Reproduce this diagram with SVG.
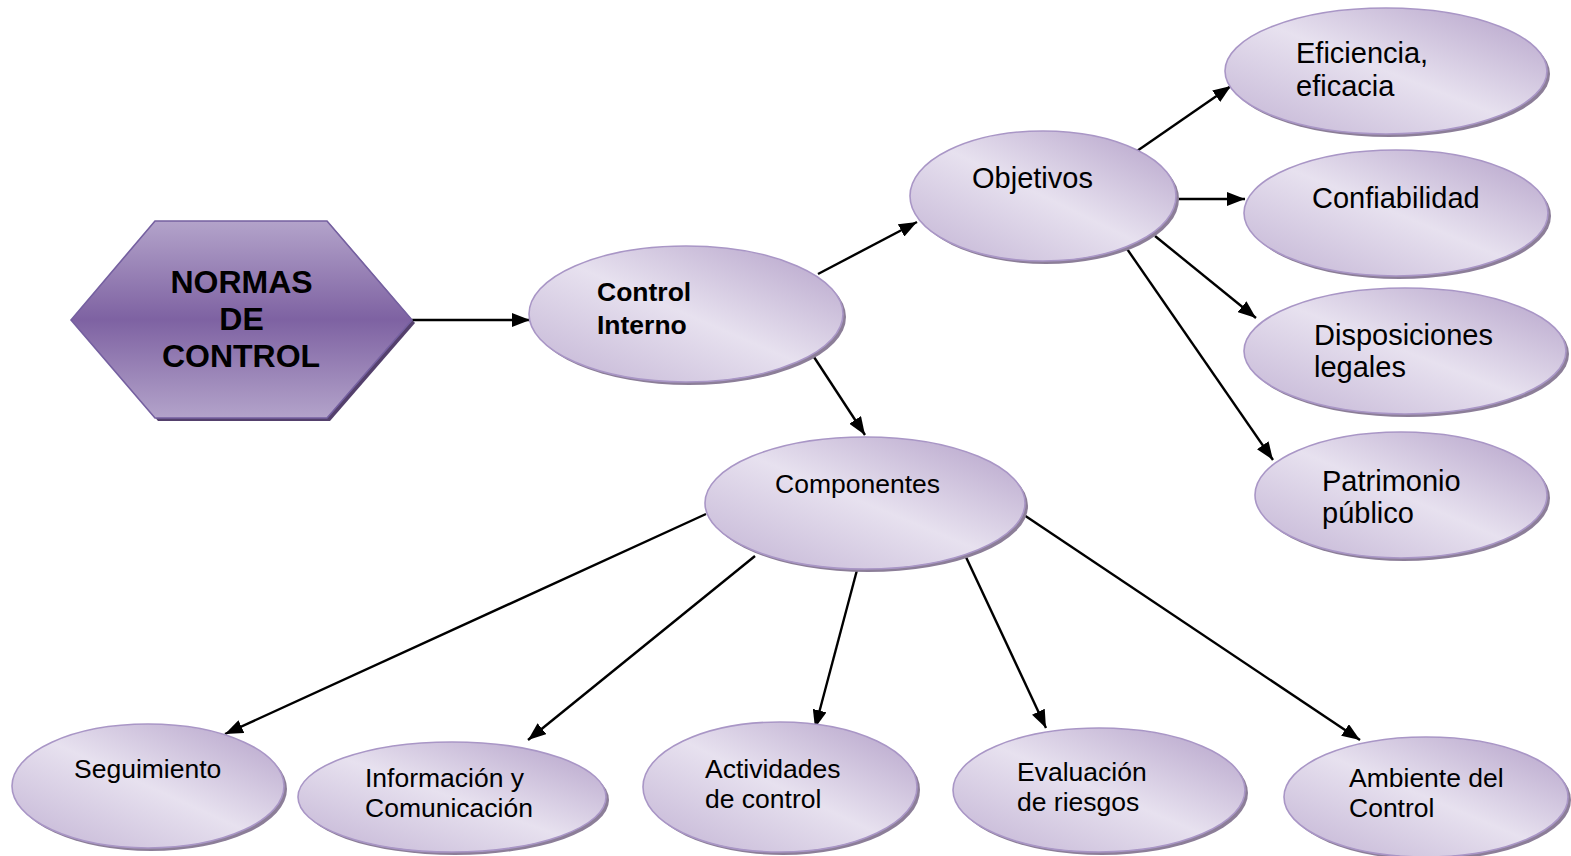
<svg xmlns="http://www.w3.org/2000/svg" width="1571" height="856" viewBox="0 0 1571 856">
  <style>
    .bubble { fill: url(#bubbleFill); stroke: #a996c6; stroke-width: 1.6; }
    .shade { fill: #8c7e98; }
    .lbl { font-family: "Liberation Sans", Arial, sans-serif; fill: #000; }
    .big { font-size: 29px; }
    .mid { font-size: 26.5px; }
    .bold { font-weight: bold; }
    .link { stroke: #000; stroke-width: 2.4; fill: none; marker-end: url(#tip); }
  </style>
  <defs>
    <linearGradient id="bubbleFill" x1="1" y1="0" x2="0" y2="1">
      <stop offset="0" stop-color="#b3a0c8"/>
      <stop offset="0.5" stop-color="#e7e1ef"/>
      <stop offset="1" stop-color="#c2b3d4"/>
    </linearGradient>
    <linearGradient id="hexFill" x1="0" y1="0" x2="0" y2="1">
      <stop offset="0" stop-color="#b3a3ca"/>
      <stop offset="0.5" stop-color="#7e62a2"/>
      <stop offset="1" stop-color="#b3a3ca"/>
    </linearGradient>
    <marker id="tip" viewBox="0 0 18 14" refX="18" refY="7" markerWidth="18" markerHeight="14" markerUnits="userSpaceOnUse" orient="auto">
      <path d="M0,0 L18,7 L0,14 z" fill="#000"/>
    </marker>
  </defs>

  <rect width="1571" height="856" fill="#fff"/>

  <!-- connectors -->
  <g id="connectors">
    <line class="link" x1="412" y1="320" x2="530" y2="320"/>
    <line class="link" x1="818" y1="274" x2="917" y2="222"/>
    <line class="link" x1="812" y1="354" x2="865" y2="435"/>
    <line class="link" x1="1137" y1="151" x2="1231" y2="86"/>
    <line class="link" x1="1172" y1="199" x2="1245" y2="199"/>
    <line class="link" x1="1155" y1="236" x2="1256" y2="318"/>
    <line class="link" x1="1125" y1="246" x2="1273" y2="460"/>
    <line class="link" x1="706" y1="514" x2="225" y2="734"/>
    <line class="link" x1="755" y1="556" x2="528" y2="740"/>
    <line class="link" x1="857" y1="570" x2="815" y2="728"/>
    <line class="link" x1="965" y1="555" x2="1046" y2="728"/>
    <line class="link" x1="1024" y1="515" x2="1360" y2="740"/>
  </g>

  <!-- root hexagon -->
  <g id="normas">
    <polygon points="74,323 158,224 330,224 415,323 330,421 158,421" fill="#54406c"/>
    <polygon points="71,320 155,221 327,221 412,320 327,418 155,418" fill="url(#hexFill)" stroke="#7560a0" stroke-width="1.6"/>
    <text class="lbl bold" font-size="32" text-anchor="middle">
      <tspan x="246" y="293">NORMAS</tspan>
      <tspan x="246" y="330">DE</tspan>
      <tspan x="241" y="367">CONTROL</tspan>
    </text>
  </g>

  <g id="control-interno">
    <ellipse class="shade" cx="689" cy="317" rx="157" ry="68"/>
    <ellipse class="bubble" cx="686" cy="314" rx="157" ry="68"/>
    <text class="lbl mid bold"><tspan x="597" y="301">Control</tspan><tspan x="597" y="334">Interno</tspan></text>
  </g>

  <g id="objetivos">
    <ellipse class="shade" cx="1046" cy="199" rx="133" ry="65"/>
    <ellipse class="bubble" cx="1043" cy="196" rx="133" ry="65"/>
    <text class="lbl big" x="972" y="188">Objetivos</text>
  </g>

  <g id="eficiencia">
    <ellipse class="shade" cx="1389" cy="74" rx="161" ry="63"/>
    <ellipse class="bubble" cx="1386" cy="71" rx="161" ry="63"/>
    <text class="lbl big"><tspan x="1296" y="63">Eficiencia,</tspan><tspan x="1296" y="96">eficacia</tspan></text>
  </g>

  <g id="confiabilidad">
    <ellipse class="shade" cx="1399" cy="216" rx="152" ry="63"/>
    <ellipse class="bubble" cx="1396" cy="213" rx="152" ry="63"/>
    <text class="lbl big" x="1312" y="208">Confiabilidad</text>
  </g>

  <g id="disposiciones">
    <ellipse class="shade" cx="1408" cy="354" rx="161" ry="63"/>
    <ellipse class="bubble" cx="1405" cy="351" rx="161" ry="63"/>
    <text class="lbl big"><tspan x="1314" y="345">Disposiciones</tspan><tspan x="1314" y="377">legales</tspan></text>
  </g>

  <g id="patrimonio">
    <ellipse class="shade" cx="1404" cy="498" rx="146" ry="63"/>
    <ellipse class="bubble" cx="1401" cy="495" rx="146" ry="63"/>
    <text class="lbl big"><tspan x="1322" y="491">Patrimonio</tspan><tspan x="1322" y="523">público</tspan></text>
  </g>

  <g id="componentes">
    <ellipse class="shade" cx="868" cy="506" rx="160" ry="66"/>
    <ellipse class="bubble" cx="865" cy="503" rx="160" ry="66"/>
    <text class="lbl mid" x="775" y="493">Componentes</text>
  </g>

  <g id="seguimiento">
    <ellipse class="shade" cx="151" cy="789" rx="136" ry="62"/>
    <ellipse class="bubble" cx="148" cy="786" rx="136" ry="62"/>
    <text class="lbl mid" x="74" y="778">Seguimiento</text>
  </g>

  <g id="informacion">
    <ellipse class="shade" cx="455" cy="800" rx="154" ry="55"/>
    <ellipse class="bubble" cx="452" cy="797" rx="154" ry="55"/>
    <text class="lbl mid"><tspan x="365" y="787">Información y</tspan><tspan x="365" y="817">Comunicación</tspan></text>
  </g>

  <g id="actividades">
    <ellipse class="shade" cx="783" cy="790" rx="137" ry="65"/>
    <ellipse class="bubble" cx="780" cy="787" rx="137" ry="65"/>
    <text class="lbl mid"><tspan x="705" y="778">Actividades</tspan><tspan x="705" y="808">de control</tspan></text>
  </g>

  <g id="evaluacion">
    <ellipse class="shade" cx="1102" cy="793" rx="146" ry="62"/>
    <ellipse class="bubble" cx="1099" cy="790" rx="146" ry="62"/>
    <text class="lbl mid"><tspan x="1017" y="781">Evaluación</tspan><tspan x="1017" y="811">de riesgos</tspan></text>
  </g>

  <g id="ambiente">
    <ellipse class="shade" cx="1429" cy="800" rx="142" ry="60"/>
    <ellipse class="bubble" cx="1426" cy="797" rx="142" ry="60"/>
    <text class="lbl mid"><tspan x="1349" y="787">Ambiente del</tspan><tspan x="1349" y="817">Control</tspan></text>
  </g>
</svg>
